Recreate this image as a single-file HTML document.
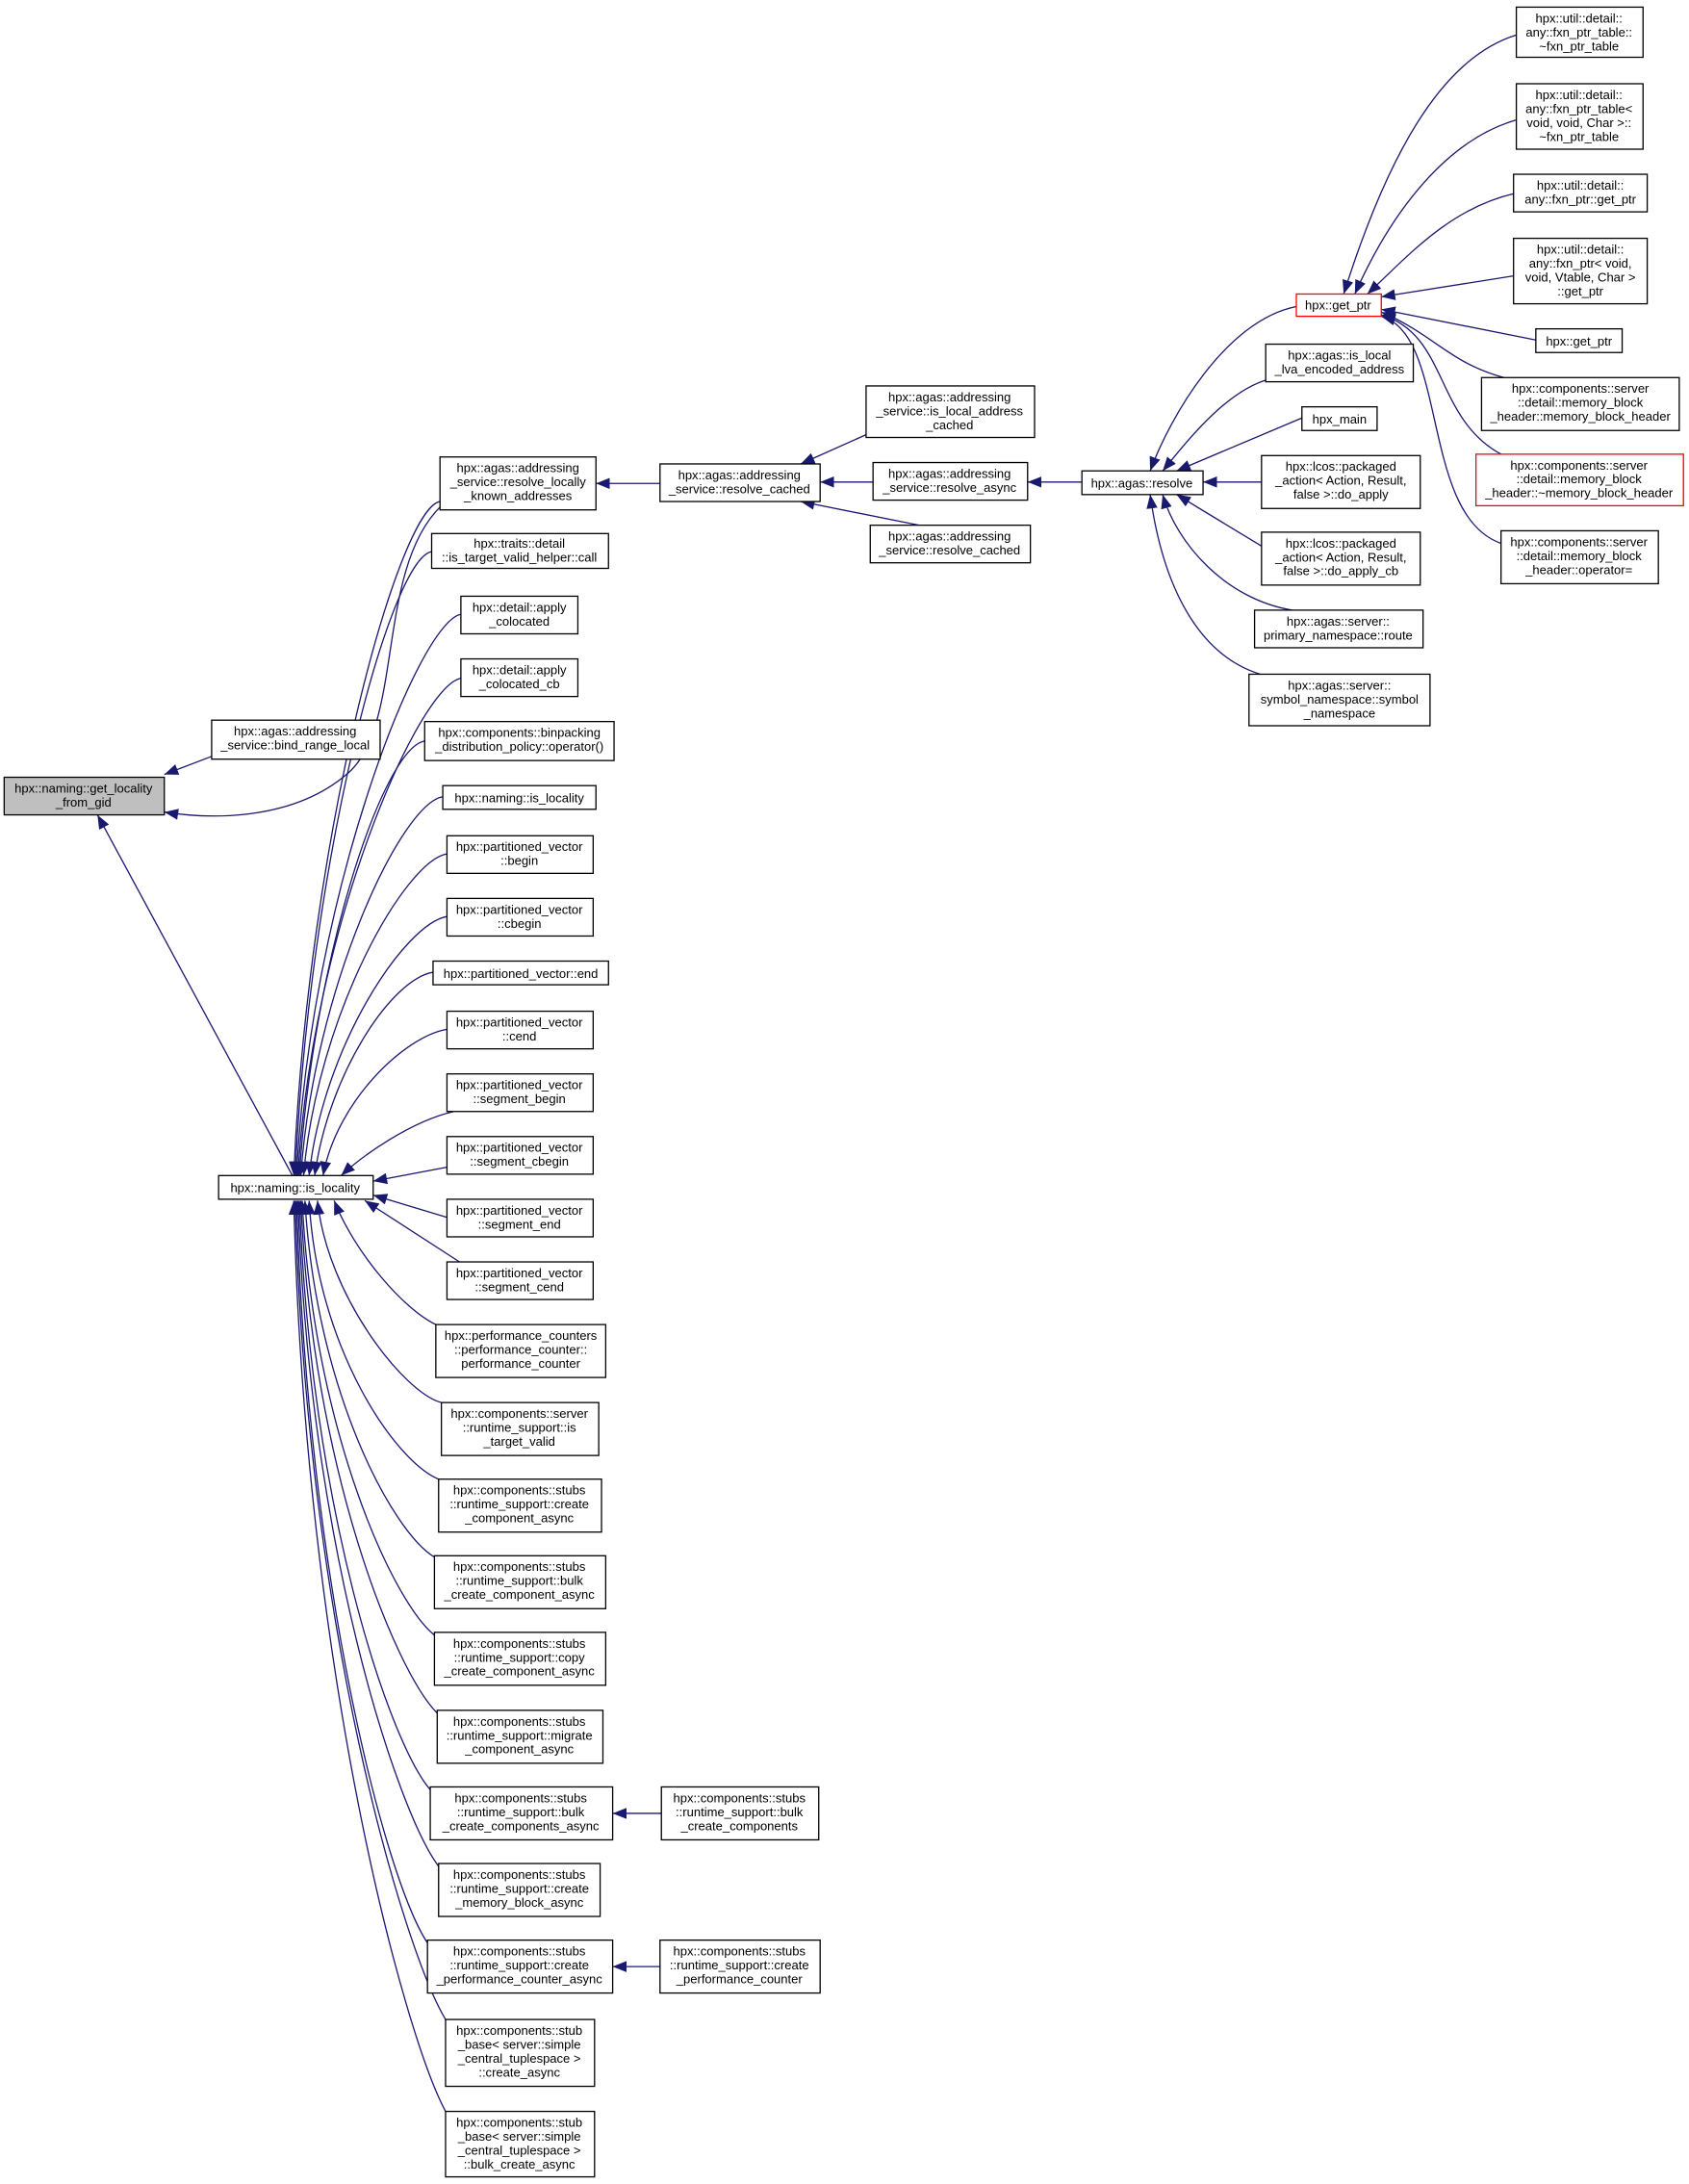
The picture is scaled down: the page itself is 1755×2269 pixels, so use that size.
<!DOCTYPE html>
<html><head><meta charset="utf-8"><style>
html,body{margin:0;padding:0;background:#fff;}
svg{display:block;}
text{font-family:"Liberation Sans",sans-serif;font-size:9px;fill:#000;text-anchor:middle;}
.n{fill:#fff;stroke:#000;stroke-width:0.9;}
.e{fill:none;stroke:#191970;stroke-width:0.9;}
</style></head><body>
<svg width="1755" height="2269" viewBox="0 0 1213 1568" xmlns="http://www.w3.org/2000/svg">
<defs><marker id="a" markerWidth="11" markerHeight="8" refX="10" refY="4" orient="auto" markerUnits="userSpaceOnUse"><path d="M0,0 L10,4 L0,8z" fill="#191970"/></marker></defs>
<g class="e" marker-end="url(#a)">
<path d="M152,543 L118,556"/>
<path d="M316,364 C270,410 290,520 250,555 C210,590 150,588 118,583"/>
<path d="M210,844 L70,585"/>
<path d="M316,360 C286,365 221,602 211,844"/>
<path d="M310,396 C280,401 222,620 212,844"/>
<path d="M331,441 C301,446 223,642 213,844"/>
<path d="M331,487 C301,492 224,665 214,844"/>
<path d="M305,532 C275,537 225,688 215,844"/>
<path d="M318,572 C288,577 226,708 216,844"/>
<path d="M321,613 C291,618 228,728 218,844"/>
<path d="M321,658 C291,663 232,751 222,844"/>
<path d="M311,698 C281,703 236,771 226,844"/>
<path d="M321,739 C291,744 242,790 232,844"/>
<path d="M326,798 C295,805 260,830 245,844"/>
<path d="M321,838 L268,848"/>
<path d="M321,874 L268,858"/>
<path d="M330,906 L262,862"/>
<path d="M313,951 C290,940 255,900 240,862"/>
<path d="M317,1007 C290,1000 235,930 228,862"/>
<path d="M315,1062 C285,1050 228,970 222,862"/>
<path d="M312,1118 C282,1100 227,999 219,862"/>
<path d="M312,1174 C282,1150 225,1026 217,862"/>
<path d="M314,1230 C284,1200 224,1054 216,862"/>
<path d="M309,1285 C279,1250 223,1082 215,862"/>
<path d="M315,1340 C285,1300 222,1109 214,862"/>
<path d="M307,1395 C277,1350 221,1137 213,862"/>
<path d="M320,1450 C290,1400 220,1167 212,862"/>
<path d="M320,1516 C290,1460 219,1200 211,862"/>
<path d="M475,1302 L440,1302"/>
<path d="M474,1412 L440,1412"/>
<path d="M474,347 L428,347"/>
<path d="M622,312 L575,333"/>
<path d="M627,346 L589,346"/>
<path d="M660,377 L575,360"/>
<path d="M777,346 L738,346"/>
<path d="M931,220 C880,230 840,300 826,338"/>
<path d="M912,272 C880,280 850,320 835,338"/>
<path d="M935,300 L845,338"/>
<path d="M906,346 L864,346"/>
<path d="M906,392 L845,355"/>
<path d="M928,438 C880,430 845,390 835,355"/>
<path d="M905,484 C860,470 835,420 826,355"/>
<path d="M1089,25 C1040,40 1000,100 965,211"/>
<path d="M1089,86 C1040,100 1000,150 973,211"/>
<path d="M1087,139 C1040,150 1010,185 982,211"/>
<path d="M1087,198 L992,213"/>
<path d="M1103,244 L992,222"/>
<path d="M1080,271 C1040,260 1030,240 992,224"/>
<path d="M1078,326 C1030,300 1040,240 992,226"/>
<path d="M1078,390 C1020,370 1040,240 992,227"/>
</g>
<g>
<rect x="3" y="558" width="115" height="27" fill="#bfbfbf" stroke="#000" stroke-width="0.9"/><text x="60" y="569">hpx::naming::get_locality</text><text x="60" y="579">_from_gid</text>
<rect class="n" x="152" y="517" width="121" height="28"/><text x="212" y="528">hpx::agas::addressing</text><text x="212" y="538">_service::bind_range_local</text>
<rect class="n" x="157" y="844" width="111" height="17"/><text x="212" y="856">hpx::naming::is_locality</text>

<rect class="n" x="316" y="328" width="112" height="38"/><text x="372" y="339">hpx::agas::addressing</text><text x="372" y="349">_service::resolve_locally</text><text x="372" y="359">_known_addresses</text>
<rect class="n" x="310" y="383" width="127" height="25"/><text x="373" y="393">hpx::traits::detail</text><text x="373" y="403">::is_target_valid_helper::call</text>
<rect class="n" x="331" y="428" width="84" height="27"/><text x="373" y="439">hpx::detail::apply</text><text x="373" y="449">_colocated</text>
<rect class="n" x="331" y="473" width="84" height="27"/><text x="373" y="484">hpx::detail::apply</text><text x="373" y="494">_colocated_cb</text>
<rect class="n" x="305" y="518" width="136" height="28"/><text x="373" y="529">hpx::components::binpacking</text><text x="373" y="539">_distribution_policy::operator()</text>
<rect class="n" x="318" y="564" width="110" height="17"/><text x="373" y="576">hpx::naming::is_locality</text>
<rect class="n" x="321" y="600" width="105" height="27"/><text x="373" y="611">hpx::partitioned_vector</text><text x="373" y="621">::begin</text>
<rect class="n" x="321" y="645" width="105" height="27"/><text x="373" y="656">hpx::partitioned_vector</text><text x="373" y="666">::cbegin</text>
<rect class="n" x="311" y="690" width="126" height="17"/><text x="374" y="702">hpx::partitioned_vector::end</text>
<rect class="n" x="321" y="726" width="105" height="27"/><text x="373" y="737">hpx::partitioned_vector</text><text x="373" y="747">::cend</text>
<rect class="n" x="321" y="771" width="105" height="27"/><text x="373" y="782">hpx::partitioned_vector</text><text x="373" y="792">::segment_begin</text>
<rect class="n" x="321" y="816" width="105" height="27"/><text x="373" y="827">hpx::partitioned_vector</text><text x="373" y="837">::segment_cbegin</text>
<rect class="n" x="321" y="861" width="105" height="27"/><text x="373" y="872">hpx::partitioned_vector</text><text x="373" y="882">::segment_end</text>
<rect class="n" x="321" y="906" width="105" height="27"/><text x="373" y="917">hpx::partitioned_vector</text><text x="373" y="927">::segment_cend</text>
<rect class="n" x="313" y="951" width="122" height="38"/><text x="374" y="962">hpx::performance_counters</text><text x="374" y="972">::performance_counter::</text><text x="374" y="982">performance_counter</text>
<rect class="n" x="317" y="1007" width="113" height="38"/><text x="373" y="1018">hpx::components::server</text><text x="373" y="1028">::runtime_support::is</text><text x="373" y="1038">_target_valid</text>
<rect class="n" x="315" y="1062" width="117" height="38"/><text x="373" y="1073">hpx::components::stubs</text><text x="373" y="1083">::runtime_support::create</text><text x="373" y="1093">_component_async</text>
<rect class="n" x="312" y="1117" width="123" height="38"/><text x="373" y="1128">hpx::components::stubs</text><text x="373" y="1138">::runtime_support::bulk</text><text x="373" y="1148">_create_component_async</text>
<rect class="n" x="312" y="1172" width="123" height="38"/><text x="373" y="1183">hpx::components::stubs</text><text x="373" y="1193">::runtime_support::copy</text><text x="373" y="1203">_create_component_async</text>
<rect class="n" x="314" y="1228" width="119" height="38"/><text x="373" y="1239">hpx::components::stubs</text><text x="373" y="1249">::runtime_support::migrate</text><text x="373" y="1259">_component_async</text>
<rect class="n" x="309" y="1283" width="131" height="38"/><text x="374" y="1294">hpx::components::stubs</text><text x="374" y="1304">::runtime_support::bulk</text><text x="374" y="1314">_create_components_async</text>
<rect class="n" x="315" y="1338" width="116" height="38"/><text x="373" y="1349">hpx::components::stubs</text><text x="373" y="1359">::runtime_support::create</text><text x="373" y="1369">_memory_block_async</text>
<rect class="n" x="307" y="1393" width="133" height="38"/><text x="373" y="1404">hpx::components::stubs</text><text x="373" y="1414">::runtime_support::create</text><text x="373" y="1424">_performance_counter_async</text>
<rect class="n" x="320" y="1450" width="107" height="48"/><text x="373" y="1461">hpx::components::stub</text><text x="373" y="1471">_base&lt; server::simple</text><text x="373" y="1481">_central_tuplespace &gt;</text><text x="373" y="1491">::create_async</text>
<rect class="n" x="320" y="1516" width="107" height="47"/><text x="373" y="1527">hpx::components::stub</text><text x="373" y="1537">_base&lt; server::simple</text><text x="373" y="1547">_central_tuplespace &gt;</text><text x="373" y="1557">::bulk_create_async</text>
<rect class="n" x="475" y="1283" width="113" height="38"/><text x="531" y="1294">hpx::components::stubs</text><text x="531" y="1304">::runtime_support::bulk</text><text x="531" y="1314">_create_components</text>
<rect class="n" x="474" y="1393" width="115" height="38"/><text x="531" y="1404">hpx::components::stubs</text><text x="531" y="1414">::runtime_support::create</text><text x="531" y="1424">_performance_counter</text>

<rect class="n" x="474" y="333" width="115" height="27"/><text x="531" y="344">hpx::agas::addressing</text><text x="531" y="354">_service::resolve_cached</text>
<rect class="n" x="622" y="277" width="121" height="37"/><text x="682" y="288">hpx::agas::addressing</text><text x="682" y="298">_service::is_local_address</text><text x="682" y="308">_cached</text>
<rect class="n" x="627" y="332" width="111" height="27"/><text x="682" y="343">hpx::agas::addressing</text><text x="682" y="353">_service::resolve_async</text>
<rect class="n" x="625" y="377" width="115" height="27"/><text x="682" y="388">hpx::agas::addressing</text><text x="682" y="398">_service::resolve_cached</text>
<rect class="n" x="777" y="338" width="87" height="17"/><text x="820" y="350">hpx::agas::resolve</text>

<rect x="931" y="211" width="61" height="16" fill="#fff" stroke="#ff0000" stroke-width="0.9"/><text x="961" y="222">hpx::get_ptr</text>
<rect class="n" x="909" y="247" width="106" height="27"/><text x="962" y="258">hpx::agas::is_local</text><text x="962" y="268">_lva_encoded_address</text>
<rect class="n" x="935" y="292" width="54" height="17"/><text x="962" y="304">hpx_main</text>
<rect class="n" x="906" y="327" width="114" height="38"/><text x="963" y="338">hpx::lcos::packaged</text><text x="963" y="348">_action&lt; Action, Result,</text><text x="963" y="358">false &gt;::do_apply</text>
<rect class="n" x="906" y="382" width="114" height="38"/><text x="963" y="393">hpx::lcos::packaged</text><text x="963" y="403">_action&lt; Action, Result,</text><text x="963" y="413">false &gt;::do_apply_cb</text>
<rect class="n" x="901" y="438" width="121" height="27"/><text x="961" y="449">hpx::agas::server::</text><text x="961" y="459">primary_namespace::route</text>
<rect class="n" x="897" y="484" width="130" height="37"/><text x="962" y="495">hpx::agas::server::</text><text x="962" y="505">symbol_namespace::symbol</text><text x="962" y="515">_namespace</text>

<rect class="n" x="1089" y="5" width="91" height="36"/><text x="1134" y="16">hpx::util::detail::</text><text x="1134" y="26">any::fxn_ptr_table::</text><text x="1134" y="36">~fxn_ptr_table</text>
<rect class="n" x="1089" y="60" width="91" height="47"/><text x="1134" y="71">hpx::util::detail::</text><text x="1134" y="81">any::fxn_ptr_table&lt;</text><text x="1134" y="91">void, void, Char &gt;::</text><text x="1134" y="101">~fxn_ptr_table</text>
<rect class="n" x="1087" y="125" width="96" height="27"/><text x="1135" y="136">hpx::util::detail::</text><text x="1135" y="146">any::fxn_ptr::get_ptr</text>
<rect class="n" x="1087" y="171" width="96" height="47"/><text x="1135" y="182">hpx::util::detail::</text><text x="1135" y="192">any::fxn_ptr&lt; void,</text><text x="1135" y="202">void, Vtable, Char &gt;</text><text x="1135" y="212">::get_ptr</text>
<rect class="n" x="1103" y="236" width="62" height="17"/><text x="1134" y="248">hpx::get_ptr</text>
<rect class="n" x="1064" y="271" width="142" height="38"/><text x="1135" y="282">hpx::components::server</text><text x="1135" y="292">::detail::memory_block</text><text x="1135" y="302">_header::memory_block_header</text>
<rect x="1060" y="326" width="149" height="37" fill="#fff" stroke="#ff0000" stroke-width="0.9"/><text x="1134" y="337">hpx::components::server</text><text x="1134" y="347">::detail::memory_block</text><text x="1134" y="357">_header::~memory_block_header</text>
<rect class="n" x="1078" y="381" width="113" height="38"/><text x="1134" y="392">hpx::components::server</text><text x="1134" y="402">::detail::memory_block</text><text x="1134" y="412">_header::operator=</text>
</g>
</svg>
</body></html>
